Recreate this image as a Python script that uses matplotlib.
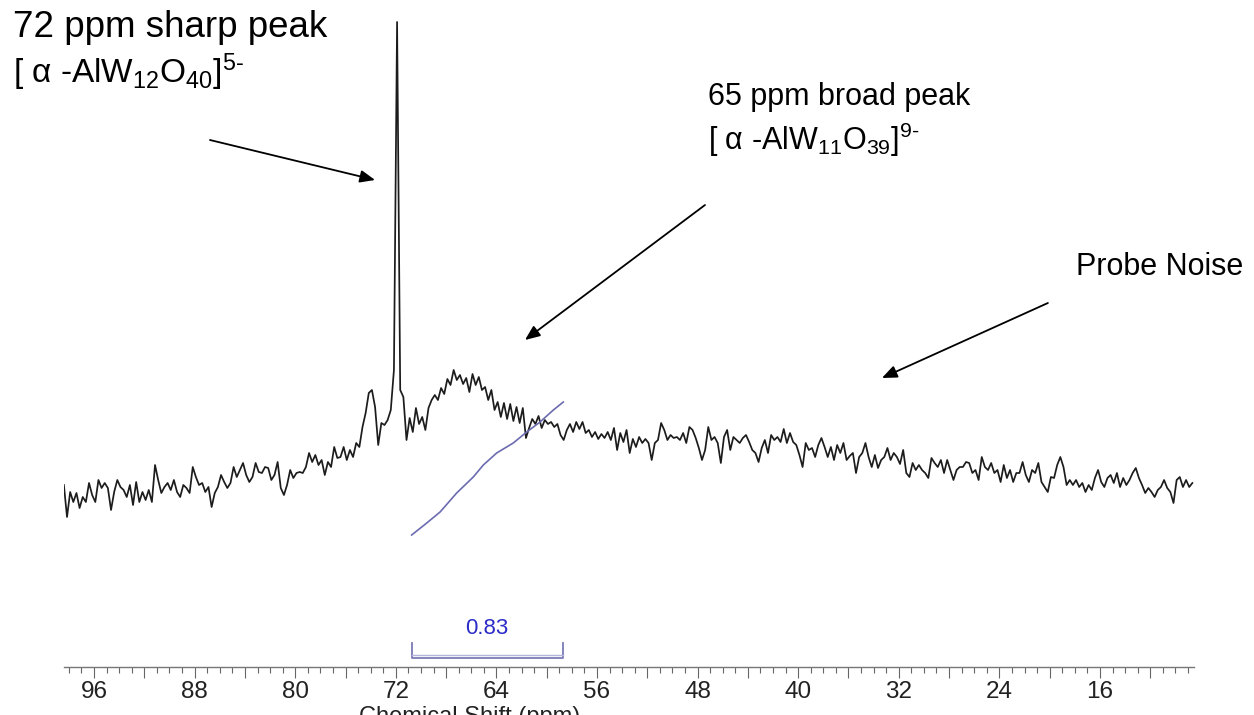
#python3

#import libraries
import numpy as np
import matplotlib.pyplot as plt
from matplotlib.ticker import FixedLocator, MultipleLocator, FuncFormatter

plt.rcParams['font.family'] = ['Liberation Sans', 'DejaVu Sans']
plt.rcParams['mathtext.fontset'] = 'custom'
plt.rcParams['mathtext.rm'] = 'Liberation Sans'
plt.rcParams['mathtext.it'] = 'Liberation Sans:italic'
plt.rcParams['mathtext.bf'] = 'Liberation Sans:bold'

#27Al spectrum, sampled every 0.25 ppm from 98.4 down to 8.65 ppm (intensity in a.u.)
intensity_high = [75, 43, 68, 58, 67, 52, 63, 58, 77, 65,
                  58, 80, 72, 77, 72, 50, 68, 80, 73, 70,
                  63, 75, 55, 78, 58, 68, 60, 70, 58, 95,
                  80, 67, 73, 77, 70, 80, 68, 63, 75, 72,
                  67, 93, 83, 75, 77, 68, 73, 53, 67, 73,
                  85, 78, 72, 77, 93, 83, 90, 97, 85, 78,
                  83, 97, 88, 87, 93, 92, 80, 85, 98, 72,
                  65, 75, 90, 82, 87, 88, 87, 93, 107, 98,
                  105, 95, 100, 85, 98, 93, 113, 102]
intensity_peaks = [103, 113, 100, 110, 103, 117, 113, 133, 147, 167,
                   170, 153, 115, 137, 135, 140, 150, 190, 538, 170,
                   163, 120, 142, 128, 152, 136, 143, 130, 152, 160,
                   165, 160, 172, 166, 181, 175, 190, 180, 185, 176,
                   182, 168, 186, 175, 183, 170, 173, 160, 170, 150,
                   158, 143, 157, 141, 156, 139, 153, 137, 152, 122,
                   132, 141, 136, 144, 132, 140, 136, 138, 133, 136,
                   125, 120, 130, 136, 128, 138, 131, 138, 127, 130,
                   123, 128, 121, 126, 122, 128, 120, 132, 110, 127,
                   118, 130, 107, 121, 113, 123, 117, 121, 117]
intensity_mid = [100, 117, 120, 137, 130, 120, 125, 122, 123, 120,
                 127, 117, 133, 130, 122, 112, 100, 110, 133, 120,
                 123, 117, 97, 123, 130, 110, 123, 120, 117, 122,
                 125, 118, 110, 107, 98, 112, 120, 107, 125, 120,
                 123, 118, 131, 117, 127, 118, 115, 105, 93, 117,
                 110, 112, 103, 115, 122, 113, 103, 113, 100, 115,
                 107, 117, 100, 104, 107, 87, 103, 107, 117, 103,
                 93, 105, 92, 100, 103, 112, 100, 107, 103, 96,
                 110, 87, 83, 97, 90, 95, 90, 87, 82, 102,
                 97, 93, 100, 87, 100, 90]
intensity_low = [80, 90, 93, 93, 98, 97, 87, 90, 80, 103,
                 93, 90, 97, 87, 90, 78, 95, 82, 90, 78,
                 87, 87, 98, 85, 78, 90, 87, 97, 78, 73,
                 68, 83, 82, 95, 103, 93, 75, 80, 75, 80,
                 73, 77, 68, 75, 70, 82, 90, 78, 73, 82,
                 85, 77, 87, 73, 82, 75, 80, 87, 92, 82,
                 75, 67, 72, 68, 63, 70, 73, 80, 72, 68,
                 57, 80, 83, 73, 80, 73, 77]

intensity = np.array(intensity_high + intensity_peaks + intensity_mid + intensity_low)
shift_ppm = np.linspace(98.4, 8.65, len(intensity))

#integral trace over the broad peak
integral_ppm = [70.74, 69.54, 68.48, 67.16, 65.84, 65.04, 63.98, 62.66, 61.59, 60.53, 59.47, 58.68]
integral_val = [25, 37, 48, 67, 83, 95, 107, 117, 128, 138, 150, 158]
integral_range = [70.74, 58.72]
integral_label = '0.83'

tick_ppm = list(range(12, 97, 4))


#figure setup
fig = plt.figure(figsize=(12.54, 7.15), dpi=100)
ax = fig.add_axes([64/1254, 48/715, 1130/1254, 667/715])

ax.plot(shift_ppm, intensity, color='#1c1c1c', lw=1.25)
ax.plot(integral_ppm, integral_val, color='#6b6bb0', lw=1.2)

#integral bracket + value
x0, x1 = integral_range
ax.plot([x0, x0, x1, x1], [-83, -98, -98, -83], color='#7b7bb8', lw=1.3)
ax.plot([x0, x1], [-95, -95], color='#b4b4da', lw=1.0)
ax.text((x0 + x1)/2, -68, integral_label, color='#2b2bc8', fontsize=16,
        ha='center', va='center')

#labels and arrows
arrow = dict(arrowstyle='-|>,head_length=0.6,head_width=0.25', color='black',
             lw=1.3, mutation_scale=15, shrinkA=0, shrinkB=0)

ax.text(102.44, 523, '72 ppm sharp peak', fontsize=26.5, ha='left', va='baseline')
ax.text(102.44, 477, r'[ α -AlW$_{12}$O$_{40}$]$^{5\text{-}}$', fontsize=24, ha='left', va='baseline')
ax.annotate('', xy=(73.65, 380), xytext=(86.78, 420), arrowprops=arrow, annotation_clip=False)

ax.text(47.17, 455, '65 ppm broad peak', fontsize=22, ha='left', va='baseline')
ax.text(47.17, 410, r'[ α -AlW$_{11}$O$_{39}$]$^{9\text{-}}$', fontsize=22, ha='left', va='baseline')
ax.annotate('', xy=(61.73, 220), xytext=(47.41, 355), arrowprops=arrow, annotation_clip=False)

ax.text(4.63, 285, 'Probe Noise', fontsize=22, ha='right', va='baseline')
ax.annotate('', xy=(33.34, 182), xytext=(20.14, 257), arrowprops=arrow, annotation_clip=False)

#axis characteristics
ax.set_xlim(98.39, 8.52)
ax.set_ylim(-107, 560)
for side in ['left', 'right', 'top']:
    ax.spines[side].set_visible(False)
ax.spines['bottom'].set_color('#777777')
ax.spines['bottom'].set_linewidth(1.0)
ax.set_yticks([])

ax.xaxis.set_major_locator(FixedLocator(tick_ppm))
ax.xaxis.set_major_formatter(FuncFormatter(lambda v, pos: str(int(v)) if int(v) % 8 == 0 else ''))
ax.xaxis.set_minor_locator(MultipleLocator(1))
ax.tick_params(axis='x', which='major', length=8, width=0.8, color='#666666',
               labelsize=17.5, labelcolor='#222222', pad=2)
ax.tick_params(axis='x', which='minor', length=4.5, width=0.8, color='#666666')

#axis title sits at the bottom edge, only its top shows
ax.set_xlabel('Chemical Shift (ppm)', fontsize=17, color='#222222')
ax.xaxis.set_label_coords(0.359, -0.058)

fig.savefig('out.png', dpi=100)
